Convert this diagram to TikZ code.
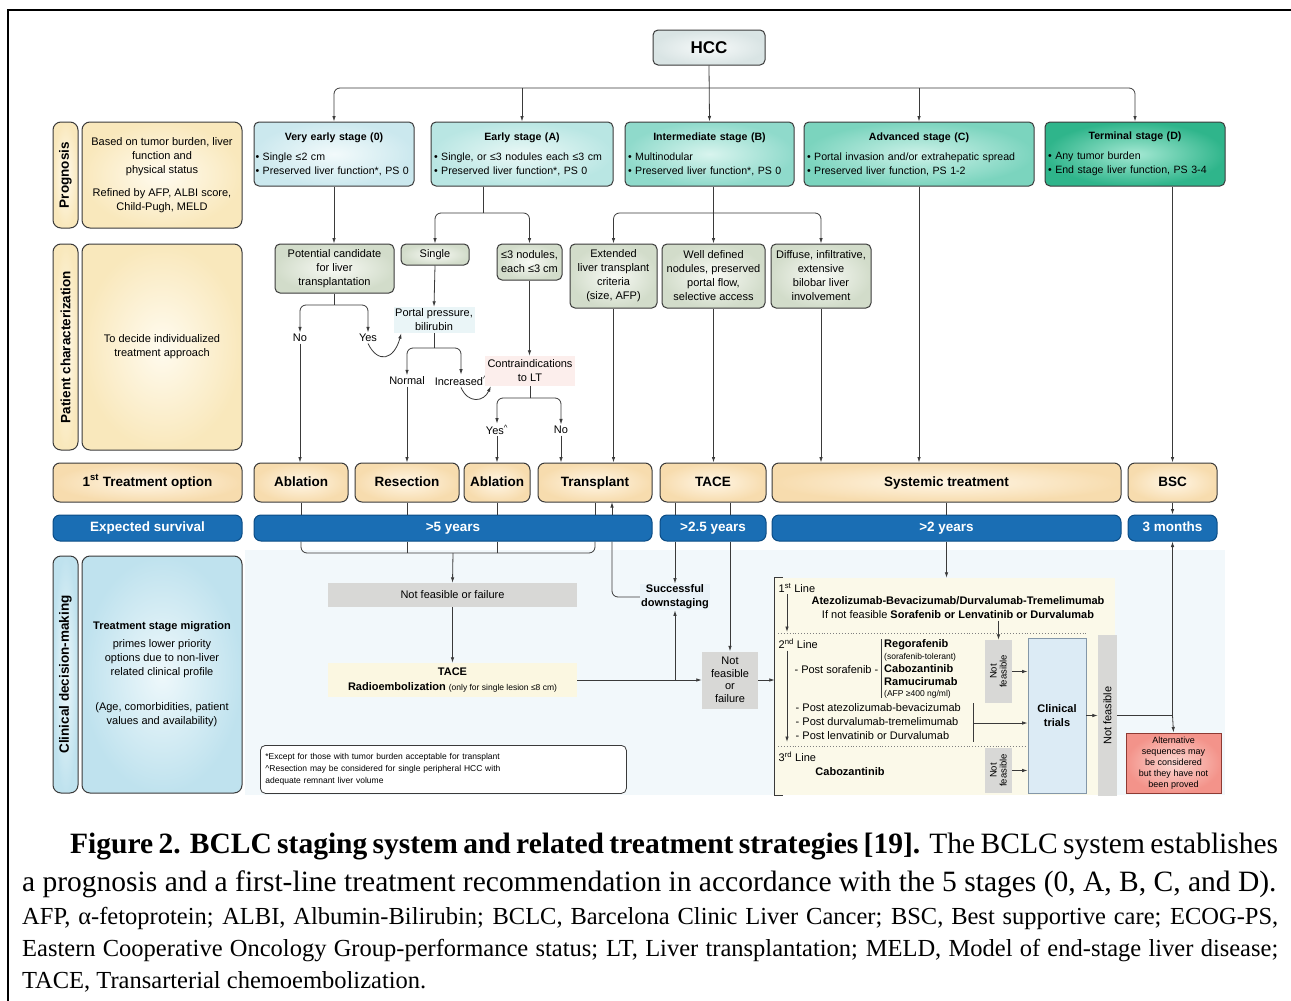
\documentclass[tikz,border=0pt]{standalone}
\usepackage{fontspec}
\setmainfont{Liberation Sans}
\newfontfamily\legende{Liberation Serif}
\usetikzlibrary{arrows.meta}
\definecolor{bord}{HTML}{3A3A3A}
\definecolor{hcc1}{HTML}{F7FAFA}\definecolor{hcc2}{HTML}{D9E4E4}
\definecolor{s0a}{HTML}{F2FAFB}\definecolor{s0b}{HTML}{CBE8EE}
\definecolor{sAa}{HTML}{EAF8F6}\definecolor{sAb}{HTML}{B9E6E3}
\definecolor{sBa}{HTML}{D8F4EE}\definecolor{sBb}{HTML}{8FDACB}
\definecolor{sCa}{HTML}{CCF1E8}\definecolor{sCb}{HTML}{7BD4BE}
\definecolor{sDa}{HTML}{A4E8D3}\definecolor{sDb}{HTML}{2FB58B}
\definecolor{cr1}{HTML}{FFFBEF}\definecolor{cr2}{HTML}{F9E8BC}
\definecolor{trt1}{HTML}{FFF6E6}\definecolor{trt2}{HTML}{F7DCAE}
\definecolor{car1}{HTML}{F8FAF5}\definecolor{car2}{HTML}{D2DCCA}
\definecolor{bl1}{HTML}{EEF8FB}\definecolor{bl2}{HTML}{BFE2EE}
\definecolor{surv}{HTML}{1A6EB4}\definecolor{survb}{HTML}{0B4C85}
\definecolor{pale}{HTML}{F2F8FB}
\definecolor{lignefond}{HTML}{FBF9E9}
\definecolor{grisfond}{HTML}{D8D8D6}
\definecolor{essai}{HTML}{DCEBF5}\definecolor{essaib}{HTML}{8497A8}
\definecolor{alt1}{HTML}{FCD9D3}\definecolor{alt2}{HTML}{F3938A}\definecolor{altb}{HTML}{8E3A33}
\definecolor{portalbg}{HTML}{EAF5F7}
\definecolor{contrabg}{HTML}{FCEEEC}
\definecolor{radiobg}{HTML}{FBF7E1}
\definecolor{succbg}{HTML}{E9F2F8}
\newcommand{\titre}[1]{\makebox[\linewidth]{\bfseries #1}}
\tikzset{
  taille/.style 2 args={minimum width=#1,minimum height=#2},
  texte/.style={font=\fontsize{11}{14}\selectfont},
  trait/.style={draw=bord,line width=0.8pt},
  fleche/.style={trait,-{Latex[length=5.5pt,width=3.5pt]}},
  etape/.style={draw=bord,line width=1pt,rounded corners=5pt,inner sep=1.5pt,align=left,
    font=\fontsize{10.6}{14}\selectfont},
  onglet/.style={draw=bord,line width=1pt,rounded corners=8pt,inner sep=0pt,rotate=90,
    font=\bfseries\fontsize{13.5}{16}\selectfont},
  desc/.style={draw=bord,line width=1pt,rounded corners=8pt,align=center,texte,taille={160}{#1}},
  carac/.style={draw=bord,line width=1pt,rounded corners=5pt,inner color=car1,outer color=car2,
    align=center,texte,inner sep=1pt},
  traitement/.style={draw=bord,line width=1pt,rounded corners=7pt,inner color=trt1,outer color=trt2,
    text height=10pt,text depth=3pt,font=\bfseries\fontsize{13.5}{16}\selectfont},
  survie/.style={draw=survb,line width=1pt,rounded corners=7pt,fill=surv,text=white,
    text height=10pt,text depth=3pt,font=\bfseries\fontsize{13.5}{16}\selectfont},
  gris/.style={fill=grisfond,texte,inner sep=0pt},
  etiquette/.style={texte,inner sep=1.5pt},
  gras/.style={font=\bfseries\fontsize{11}{14}\selectfont,inner sep=1pt},
  mince/.style={font=\fontsize{8.5}{10}\selectfont,inner sep=1pt},
}

\begin{document}
\begin{tikzpicture}[x=1pt,y=-1pt]
  \useasboundingbox (0,0) rectangle (1291,1001);
  % cadre et fonds
  \draw[line width=2pt] (8,1001) -- (8,10) -- (1291,10);
  \fill[pale] (245,550) rectangle (1225,795);
  \node[fill=lignefond,taille={340}{217},inner sep=0pt] (lignes) at (945,686.5) {};

  % colonne de gauche
  \node[onglet,taille={106}{25},inner color=cr1,outer color=cr2] (ongP) at (65.5,175) {Prognosis};
  \node[desc=106,inner color=cr1,outer color=cr2] (descP) at (162,175)
    {Based on tumor burden, liver\\function and\\physical status\\[9pt]Refined by AFP, ALBI score,\\Child-Pugh, MELD};
  \node[onglet,taille={206}{25},inner color=cr1,outer color=cr2] (ongC) at (65.5,347) {Patient characterization};
  \node[desc=206,inner color=cr1,outer color=cr2] (descC) at (162,347)
    {To decide individualized\\treatment approach};
  \node[traitement,taille={189}{39}] (opt) at (147.5,482.5) {1\textsuperscript{st} Treatment option};
  \node[survie,taille={189}{26}] (esp) at (147.5,528) {Expected survival};
  \node[onglet,taille={237}{25},inner color=bl1,outer color=bl2] (ongD) at (65.5,674.5) {Clinical decision-making};
  \node[desc=237,inner color=bl1,outer color=bl2] (descD) at (162,674.5)
    {\textbf{Treatment stage migration}\\[4pt]primes lower priority\\options due to non-liver\\related clinical profile\\[21pt](Age, comorbidities, patient\\values and availability)};

  % HCC et stades
  \node[etape,taille={112}{35},inner color=hcc1,outer color=hcc2,
    font=\bfseries\fontsize{17}{20}\selectfont] (hcc) at (709,47.5) {HCC};
  \node[etape,taille={160}{64},text width=157pt,inner color=s0a,outer color=s0b] (s0) at (334,154)
    {\titre{Very early stage (0)}\\[6pt]• Single ≤2 cm\\• Preserved liver function*, PS 0};
  \node[etape,taille={182}{64},text width=176pt,inner color=sAa,outer color=sAb] (sA) at (522,154)
    {\titre{Early stage (A)}\\[6pt]• Single, or ≤3 nodules each ≤3 cm\\• Preserved liver function*, PS 0};
  \node[etape,taille={169}{64},text width=163pt,inner color=sBa,outer color=sBb] (sB) at (709.5,154)
    {\titre{Intermediate stage (B)}\\[6pt]• Multinodular\\• Preserved liver function*, PS 0};
  \node[etape,taille={230}{64},text width=224pt,inner color=sCa,outer color=sCb] (sC) at (919,154)
    {\titre{Advanced stage (C)}\\[6pt]• Portal invasion and/or extrahepatic spread\\• Preserved liver function, PS 1-2};
  \node[etape,taille={180}{64},text width=174pt,inner color=sDa,outer color=sDb] (sD) at (1135,154)
    {\titre{Terminal stage (D)}\\[6pt]• Any tumor burden\\• End stage liver function, PS 3-4};

  \draw[fleche] (hcc.south) -- (sB.north);
  \draw[fleche,rounded corners=6] (hcc.south |- 0,88) -| (s0.north);
  \draw[fleche,rounded corners=6] (hcc.south |- 0,88) -| (sD.north);
  \draw[fleche] (sA.north |- 0,88) -- (sA.north);
  \draw[fleche] (sC.north |- 0,88) -- (sC.north);

  % caracterisation
  \node[carac,taille={119}{49}] (cand) at (334.5,268.5) {Potential candidate\\for liver\\transplantation};
  \node[carac,taille={68}{21}] (single) at (435,254.5) {Single};
  \node[carac,taille={65}{36}] (nod3) at (529.5,262) {≤3 nodules,\\each ≤3 cm};
  \node[carac,taille={87}{64}] (ext) at (613.5,276) {Extended\\liver transplant\\criteria\\(size, AFP)};
  \node[carac,taille={103}{64}] (well) at (713.5,276) {Well defined\\nodules, preserved\\portal flow,\\selective access};
  \node[carac,taille={100}{64}] (diff) at (821,276) {Diffuse, infiltrative,\\extensive\\bilobar liver\\involvement};

  \draw[fleche] (s0.south) -- (s0.south |- cand.north);
  \coordinate (bA) at (483,213);
  \draw[trait] (bA |- sA.south) -- (bA);
  \draw[fleche,rounded corners=6] (bA) -| (single.north);
  \draw[fleche,rounded corners=6] (bA) -| (nod3.north);
  \coordinate (bB) at (713.5,213);
  \draw[fleche] (bB |- sB.south) -- (well.north);
  \draw[fleche,rounded corners=6] (bB) -| (ext.north);
  \draw[fleche,rounded corners=6] (bB) -| (diff.north);

  % decisions
  \node[etiquette] (non) at (300,338) {No};
  \node[etiquette] (oui) at (368,338) {Yes};
  \node[etiquette,fill=portalbg,taille={81}{26},align=center] (portal) at (434,320) {Portal pressure,\\bilirubin};
  \node[etiquette] (normal) at (407,381) {Normal};
  \node[etiquette] (incr) at (461,381) {Increased\textsuperscript{\textasciicircum}};
  \node[etiquette,fill=contrabg,taille={90}{30},align=center] (contra) at (530,371) {Contraindications\\to LT};
  \node[etiquette] (ouib) at (497,430) {Yes\textsuperscript{\textasciicircum}};
  \node[etiquette] (nonb) at (561,430) {No};

  \coordinate (bc) at (334.5,305);
  \draw[trait] (cand.south) -- (bc);
  \draw[fleche,rounded corners=6] (bc) -| (non.north);
  \draw[fleche,rounded corners=6] (bc) -| (oui.north);
  \draw[fleche] (single.south) -- (portal.north);
  \draw[fleche] (oui.south) .. controls (378,364) and (394,360) .. ([xshift=8pt]portal.south west);
  \coordinate (bp) at (434,348);
  \draw[trait] (portal.south) -- (bp);
  \draw[fleche,rounded corners=6] (bp) -| (normal.north);
  \draw[fleche,rounded corners=6] (bp) -| (incr.north);
  \draw[fleche] (incr.south) .. controls (468,404) and (484,402) .. ([xshift=6pt]contra.south west);
  \draw[fleche] (nod3.south) -- (nod3.south |- contra.north);
  \coordinate (bn) at (530,398);
  \draw[trait] (contra.south) -- (bn);
  \draw[fleche,rounded corners=6] (bn) -| (ouib.north);
  \draw[fleche,rounded corners=6] (bn) -| (nonb.north);

  % premier traitement
  \node[traitement,taille={94}{39}] (abl1) at (301,482.5) {Ablation};
  \node[traitement,taille={104}{39}] (res) at (407,482.5) {Resection};
  \node[traitement,taille={66}{39}] (abl2) at (497,482.5) {Ablation};
  \node[traitement,taille={114}{39}] (trans) at (595,482.5) {Transplant};
  \node[traitement,taille={106}{39}] (tace) at (713,482.5) {TACE};
  \node[traitement,taille={349}{39}] (syst) at (946.5,482.5) {Systemic treatment};
  \node[traitement,taille={89}{39}] (bsc) at (1172.5,482.5) {BSC};

  \draw[fleche] (non.south) -- (non.south |- abl1.north);
  \draw[fleche] (normal.south) -- (normal.south |- res.north);
  \draw[fleche] (ouib.south) -- (ouib.south |- abl2.north);
  \draw[fleche] (nonb.south) -- (nonb.south |- trans.north);
  \draw[fleche] (ext.south) -- (ext.south |- trans.north);
  \draw[fleche] (well.south) -- (well.south |- tace.north);
  \draw[fleche] (diff.south) -- (diff.south |- syst.north);
  \draw[fleche] (sC.south) -- (sC.south |- syst.north);
  \draw[fleche] (bsc.north |- sD.south) -- (bsc.north);

  % survie
  \node[survie,taille={398}{26}] (s5) at (453,528) {>5 years};
  \node[survie,taille={106}{26}] (s25) at (713,528) {>2.5 years};
  \node[survie,taille={349}{26}] (s2) at (946.5,528) {>2 years};
  \node[survie,taille={89}{26}] (s3m) at (1172.5,528) {3 months};

  \foreach \t in {abl1,res,abl2,trans}
    \draw[trait] (\t.south) -- (\t.south |- s5.north);
  \draw[trait,rounded corners=6] (abl1.south |- s5.south) -- (abl1.south |- 0,553)
    -- (trans.south |- 0,553) -- (trans.south |- s5.south);
  \draw[trait] (res.south |- s5.south) -- (res.south |- 0,553);
  \draw[trait] (abl2.south |- s5.south) -- (abl2.south |- 0,553);
  \draw[trait] (syst.south) -- (s2.north);
  \draw[fleche] (bsc.south) -- (s3m.north);

  % decision clinique
  \node[gris,taille={249}{24}] (nf1) at (452.5,595) {Not feasible or failure};
  \node[fill=radiobg,taille={249}{34},align=center,inner sep=0pt,font=\fontsize{11}{15}\selectfont] (radio) at (452.5,680)
    {\textbf{TACE}\\\textbf{Radioembolization} {\fontsize{8.5}{10}\selectfont(only for single lesion ≤8 cm)}};
  \node[fill=succbg,align=center,gras] (succ) at (675,597) {Successful\\downstaging};
  \node[gris,taille={56}{57},align=center,font=\fontsize{11}{12.5}\selectfont] (nf2) at (730,680) {Not\\feasible\\or\\failure};

  \draw[fleche] (s5.south |- 0,553) -- (nf1.north);
  \draw[fleche] (nf1.south) -- (radio.north);
  \draw[fleche] (radio.east) -- (radio.east -| nf2.west);
  \draw[fleche] (succ.south |- radio.east) -- (succ.south);
  \draw[trait] (succ.north |- tace.south) -- (succ.north |- s25.north);
  \draw[fleche] (succ.north |- s25.south) -- (succ.north);
  \draw[trait] (nf2.north |- tace.south) -- (nf2.north |- s25.north);
  \draw[fleche] (nf2.north |- s25.south) -- (nf2.north);
  \coordinate (rt) at (612,502);
  \draw[trait,rounded corners=6] (succ.west) -| (rt |- s5.south);
  \draw[fleche] (rt |- s5.north) -- (rt);
  \draw[fleche] (nf2.east) -- (nf2.east -| lignes.west);
  \draw[fleche] (s2.south) -- (s2.south |- lignes.north);

  % lignes de traitement systemique
  \draw[trait] ([xshift=8pt]lignes.north west) -- (lignes.north west) -- (lignes.south west) -- ++(8,0);
  \node[anchor=west,etiquette] (l1) at (777,588) {1\textsuperscript{st} Line};
  \node[gras] (t1a) at (958,601) {Atezolizumab-Bevacizumab/Durvalumab-Tremelimumab};
  \node[etiquette] (t1b) at (958,615) {If not feasible \textbf{Sorafenib or Lenvatinib or Durvalumab}};
  \draw[gray,dotted,line width=0.9pt] (778,633) -- (1088,633);
  \node[anchor=west,etiquette] (l2) at (777,644) {2\textsuperscript{nd} Line};
  \node[anchor=east,etiquette] (psor) at (880,670) {- Post sorafenib -};
  \draw[trait] (881,639) -- (881,698);
  \node[anchor=west,gras] (rego) at (883,645) {Regorafenib};
  \node[anchor=west,mince] (rtol) at (883,657) {(sorafenib-tolerant)};
  \node[anchor=west,gras] (cabo) at (883,669) {Cabozantinib};
  \node[anchor=west,gras] (ramu) at (883,682) {Ramucirumab};
  \node[anchor=west,mince] (rafp) at (883,694) {(AFP ≥400 ng/ml)};
  \node[anchor=west,etiquette] (patez) at (794,708) {- Post atezolizumab-bevacizumab};
  \node[anchor=west,etiquette] (pdurv) at (794,722) {- Post durvalumab-tremelimumab};
  \node[anchor=west,etiquette] (plenv) at (794,736) {- Post lenvatinib or Durvalumab};
  \draw[trait] (973,703) -- (973,742);
  \draw[gray,dotted,line width=0.9pt] (778,746) -- (1025,746);
  \node[anchor=west,etiquette] (l3) at (777,757) {3\textsuperscript{rd} Line};
  \node[gras] (cabo3) at (850,772) {Cabozantinib};
  \coordinate (fl) at (787,632);
  \draw[fleche] (fl |- l1.south) -- (fl);
  \draw[fleche] (fl |- l2.south) -- (787,742);

  \node[gris,rotate=90,taille={63}{27},align=center,font=\fontsize{9.5}{10}\selectfont] (nfa) at (998.5,671.5) {Not\\feasible};
  \node[gris,rotate=90,taille={45}{27},align=center,font=\fontsize{9.5}{10}\selectfont] (nfb) at (998.5,770.5) {Not\\feasible};
  \node[draw=essaib,line width=0.8pt,fill=essai,taille={58}{155},align=center,gras] (trials) at (1057,715.5) {Clinical\\trials};
  \node[gris,rotate=90,taille={161}{19}] (nfc) at (1107.5,715.5) {Not feasible};
  \node[draw=altb,line width=1pt,inner color=alt1,outer color=alt2,taille={95}{60},align=center,
    inner sep=0pt,font=\fontsize{9}{11}\selectfont] (alt) at (1173.5,763)
    {Alternative\\sequences may\\be considered\\but they have not\\been proved};

  \draw[fleche] (nfa.east |- t1b.south) -- (nfa.east);
  \draw[fleche] (nfa.south) -- (nfa.south -| trials.west);
  \draw[fleche] (nfb.south) -- (nfb.south -| trials.west);
  \draw[fleche] (973,723) -- (trials.west |- 0,723);
  \draw[fleche] (trials.east) -- (nfc.north);
  \draw[fleche] (nfc.south) -| (s3m.south);
  \draw[fleche] (s3m.south |- nfc.south) -- (alt.north);

  % notes
  \node[draw=bord,line width=0.8pt,rounded corners=5pt,fill=white,anchor=north west,taille={366}{48},
    text width=356pt,align=left,inner sep=5pt,font=\fontsize{8.5}{12}\selectfont] (note) at (260,745)
    {*Except for those with tumor burden acceptable for transplant\\\textasciicircum Resection may be considered for single peripheral HCC with\\adequate remnant liver volume};

  % legende
  \node[anchor=base west,inner sep=0pt,text width=1256pt,align=justify,
    font=\legende\fontsize{29.5}{38}\selectfont] (leg1) at (22,853)
    {\hspace*{48pt}\textbf{Figure 2. BCLC staging system and related treatment strategies [19].} The BCLC system establishes\linebreak a prognosis and a first-line treatment recommendation in accordance with the 5 stages (0, A, B, C, and D).\parfillskip=0pt};
  \node[anchor=base west,inner sep=0pt,text width=1256pt,align=justify,
    font=\legende\fontsize{24.5}{32}\selectfont] (leg2) at (22,924)
    {AFP, α-fetoprotein; ALBI, Albumin-Bilirubin; BCLC, Barcelona Clinic Liver Cancer; BSC, Best supportive care; ECOG-PS,\linebreak Eastern Cooperative Oncology Group-performance status; LT, Liver transplantation; MELD, Model of end-stage liver disease;\linebreak TACE, Transarterial chemoembolization.};
\end{tikzpicture}
\end{document}
